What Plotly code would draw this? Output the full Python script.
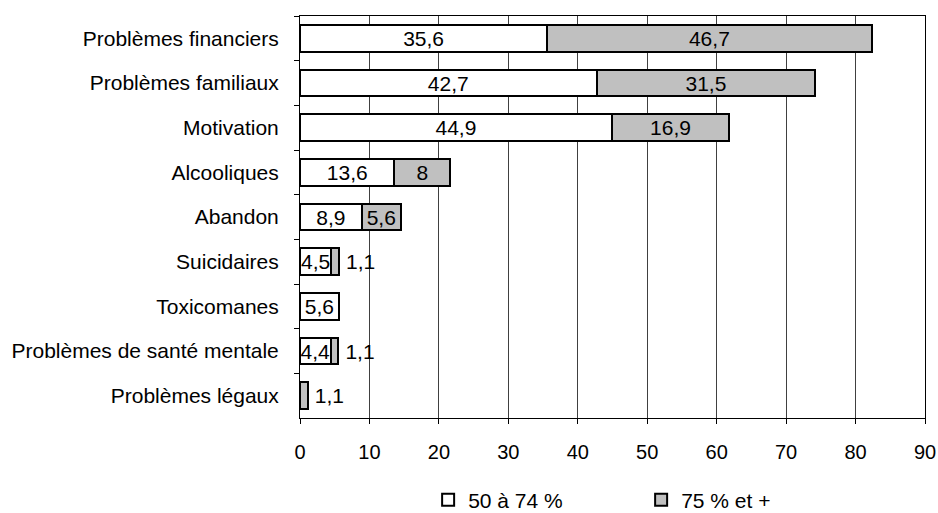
import plotly.graph_objects as go

categories = [
    "Problèmes financiers",
    "Problèmes familiaux",
    "Motivation",
    "Alcooliques",
    "Abandon",
    "Suicidaires",
    "Toxicomanes",
    "Problèmes de santé mentale",
    "Problèmes légaux",
]
serie_50_74 = [35.6, 42.7, 44.9, 13.6, 8.9, 4.5, 5.6, 4.4, 0]
serie_75_plus = [46.7, 31.5, 16.9, 8, 5.6, 1.1, 0, 1.1, 1.1]
x_ticks = [0, 10, 20, 30, 40, 50, 60, 70, 80, 90]


def fmt(v):
    if v == 0:
        return ""
    s = f"{v:g}"
    return s.replace(".", ",")


FONT = "Liberation Sans, Arial, sans-serif"
FS = 21

# small grey segments get their label to the right of the bar
pos_75 = ["inside" if v >= 3 else "outside" for v in serie_75_plus]
txt_75 = [fmt(v) if p == "inside" else "\u2009" + fmt(v) for v, p in zip(serie_75_plus, pos_75)]

fig = go.Figure()
fig.add_trace(go.Bar(
    y=categories, x=serie_50_74, orientation="h", name="50 à 74 %",
    marker=dict(color="white", line=dict(color="black", width=2)),
    text=[fmt(v) for v in serie_50_74], textposition="inside",
    insidetextanchor="middle", textangle=0,
    textfont=dict(color="black", size=FS, family=FONT),
    constraintext="none", cliponaxis=False,
))
fig.add_trace(go.Bar(
    y=categories, x=serie_75_plus, orientation="h", name="75 % et +",
    marker=dict(color="#C0C0C0", line=dict(color="black", width=2)),
    text=txt_75, textposition=pos_75,
    insidetextanchor="middle", textangle=0,
    textfont=dict(color="black", size=FS, family=FONT),
    constraintext="none", cliponaxis=False,
))

fig.update_layout(
    barmode="stack",
    bargap=0.4,
    width=938, height=513,
    margin=dict(l=300, r=13, t=16, b=95, autoexpand=False),
    paper_bgcolor="white", plot_bgcolor="white",
    font=dict(family=FONT, size=FS, color="black"),
    uniformtext=dict(minsize=FS, mode="show"),
    legend=dict(
        orientation="h", x=0.205, xanchor="left", y=-0.204, yanchor="middle",
        font=dict(size=FS), entrywidth=168, entrywidthmode="pixels",
        traceorder="normal", itemwidth=30,
    ),
    xaxis=dict(
        range=[0, 90], tickvals=x_ticks, showgrid=True, gridcolor="#404040",
        gridwidth=1, showline=True, linecolor="black", linewidth=1, mirror=True,
        ticks="outside", ticklen=5, tickcolor="black", zeroline=False,
        tickfont=dict(size=FS - 1), ticklabelstandoff=11,
    ),
    yaxis=dict(
        autorange="reversed", showline=True, linecolor="black", linewidth=1,
        mirror=True, ticks="outside", ticklen=5, tickcolor="black",
        tickson="boundaries", showgrid=False, tickfont=dict(size=FS),
        ticklabelstandoff=16,
    ),
)

fig.write_html("out.html")
